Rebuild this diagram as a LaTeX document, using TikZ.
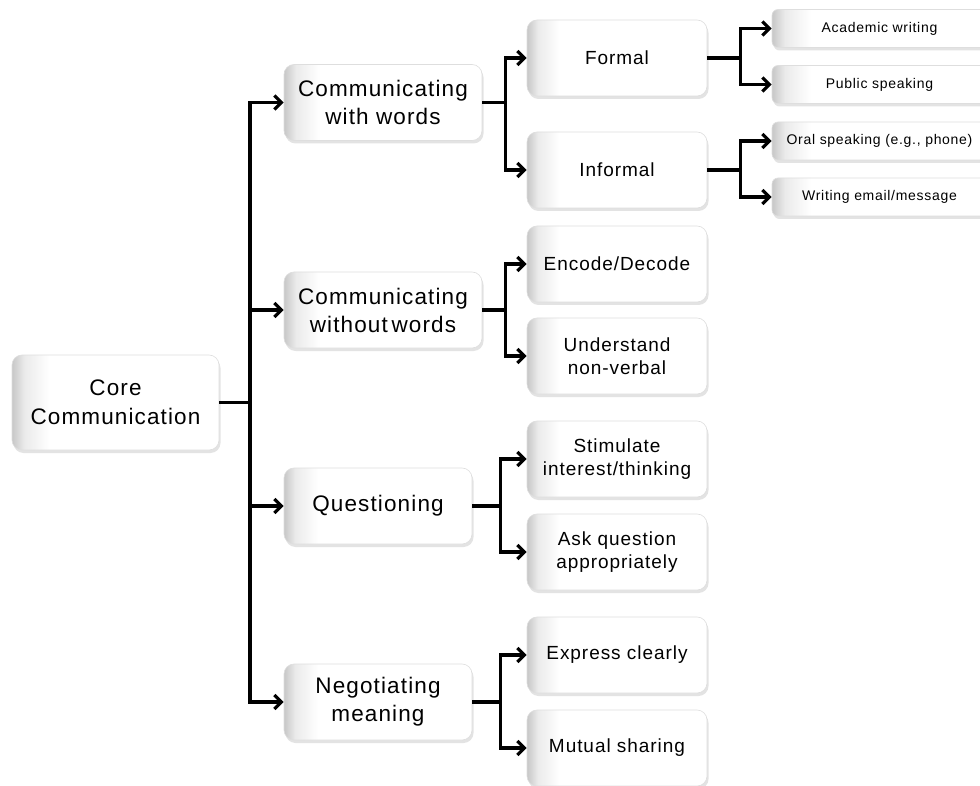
\documentclass[tikz,border=0pt]{standalone}
\usepackage{fontspec}
\setmainfont{Liberation Sans}[LetterSpace=5]
\usetikzlibrary{arrows.meta,shadows}

% soft grey edge on the left of every box, fading to white
\pgfdeclarehorizontalshading{boxshade}{100bp}{%
  color(0bp)=(black!24); color(25bp)=(black!22); color(28bp)=(black!8);
  color(34bp)=(white); color(100bp)=(white)}

\begin{document}
\begin{tikzpicture}[x=1pt,y=-1pt,
  box/.style={rounded corners=10pt, shading=boxshade, draw=black!13, line width=0.6pt,
    drop shadow={shadow xshift=1.5pt, shadow yshift=-3pt, opacity=0.22},
    align=center, inner sep=0pt, text=black},
  coreBox/.style={box, minimum width=207pt, minimum height=95pt,
    font=\fontsize{22.5}{29}\selectfont},
  firstBox/.style={box, minimum height=76pt, font=\fontsize{22.5}{28}\selectfont},
  secondBox/.style={box, minimum width=180pt, minimum height=76pt,
    font=\fontsize{19}{23}\selectfont},
  thirdBox/.style={box, rounded corners=6pt, minimum width=215pt, minimum height=38pt,
    font=\fontsize{14}{17}\selectfont},
  link/.style={line width=3.3pt, black},
  arr/.style={link, -{Straight Barb[length=7pt,width=14pt]}}
]
\useasboundingbox[fill=white] (0,0) rectangle (980,786);

% root
\node[coreBox] (core) at (115.5,402.5) {Core\\Communication};

% first level
\node[firstBox, minimum width=198pt] (words)   at (383,102.5) {Communicating\\with words};
\node[firstBox, minimum width=198pt] (nowords) at (383,310)   {Communicating\\without\,words};
\node[firstBox, minimum width=188pt] (quest)   at (378,506)   {Questioning};
\node[firstBox, minimum width=188pt] (nego)    at (378,702)   {Negotiating\\meaning};

% second level
\node[secondBox] (formal)   at (617,58)  {Formal};
\node[secondBox] (informal) at (617,170) {Informal};
\node[secondBox] (encode)   at (617,264) {Encode/Decode};
\node[secondBox] (nonverb)  at (617,356) {Understand\\non-verbal};
\node[secondBox] (stim)     at (617,459) {Stimulate\\interest/thinking};
\node[secondBox] (ask)      at (617,552) {Ask question\\appropriately};
\node[secondBox] (express)  at (617,655) {Express clearly};
\node[secondBox] (mutual)   at (617,748) {Mutual sharing};

% third level
\node[thirdBox] (academic) at (879.5,28.5) {Academic writing};
\node[thirdBox] (public)   at (879.5,84.5) {Public speaking};
\node[thirdBox] (oral)     at (879.5,141)  {Oral speaking (e.g., phone)};
\node[thirdBox] (email)    at (879.5,197)  {Writing email/message};

% root to first level
\coordinate (trunk) at (250,402.5);
\draw[link] (core.east) -- (trunk);
\foreach \n in {words,nowords,quest,nego}
  \draw[arr] (trunk) |- (\n.west);

% first level to second level
\draw[arr] (words.east) -- ++(23,0) |- (formal.west);
\draw[arr] (words.east) -- ++(23,0) |- (informal.west);
\draw[arr] (nowords.east) -- ++(23,0) |- (encode.west);
\draw[arr] (nowords.east) -- ++(23,0) |- (nonverb.west);
\draw[arr] (quest.east) -- ++(28,0) |- (stim.west);
\draw[arr] (quest.east) -- ++(28,0) |- (ask.west);
\draw[arr] (nego.east) -- ++(28,0) |- (express.west);
\draw[arr] (nego.east) -- ++(28,0) |- (mutual.west);

% second level to third level
\draw[arr] (formal.east) -- ++(33,0) |- (academic.west);
\draw[arr] (formal.east) -- ++(33,0) |- (public.west);
\draw[arr] (informal.east) -- ++(33,0) |- (oral.west);
\draw[arr] (informal.east) -- ++(33,0) |- (email.west);
\end{tikzpicture}
\end{document}
